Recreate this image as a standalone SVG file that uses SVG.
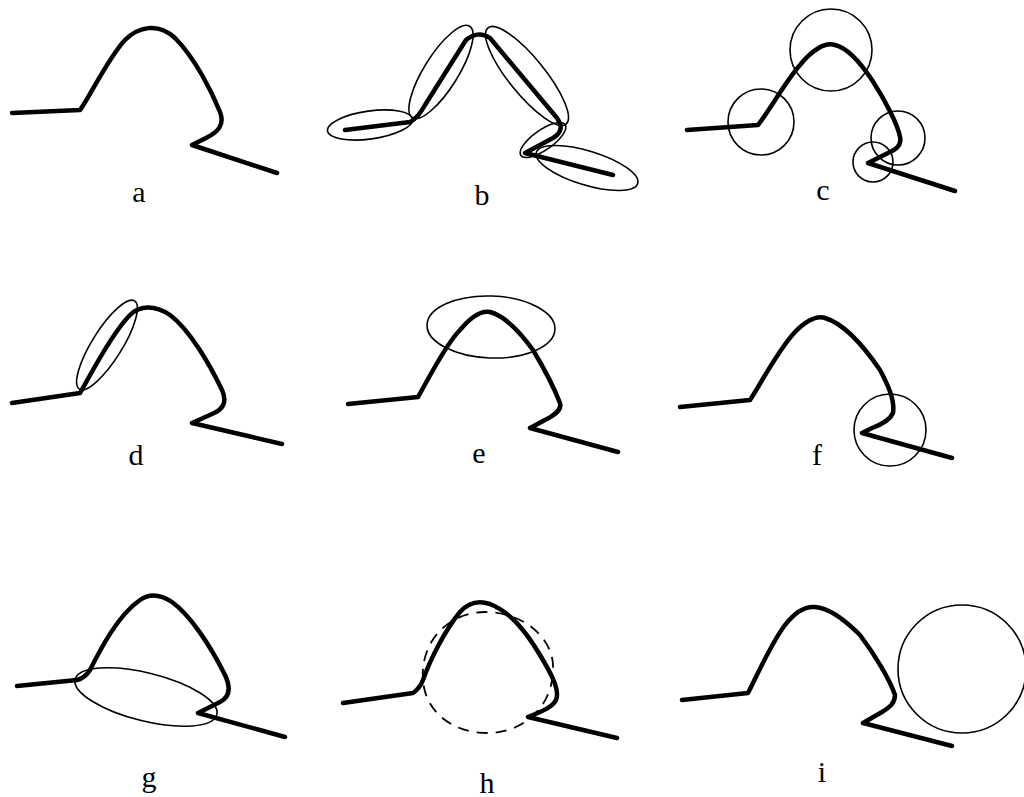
<svg xmlns="http://www.w3.org/2000/svg" width="1024" height="797" viewBox="0 0 1024 797">
<style>
.curve{fill:none;stroke:#000;stroke-width:4.5;stroke-linecap:round;stroke-linejoin:round}
.ring{fill:none;stroke:#000;stroke-width:1.6}
.dash{fill:none;stroke:#000;stroke-width:1.8;stroke-dasharray:11 8}
.lbl{font-family:"Liberation Serif",serif;font-size:30px;fill:#000;text-anchor:middle}
</style>
<rect width="1024" height="797" fill="#fff"/>
<g id="panel-a">
<path class="curve" d="M12,113 L80,110 C88,100 108,58 125,40 C138,27 158,22 175,38 C195,58 212,92 220,112 C225,125 218,132 206,138 L192,145 L277,173"/>
<text class="lbl" x="139" y="202">a</text>
</g>
<g id="panel-b">
<path class="curve" d="M345,130 L410,122 Q418,118 425,105 L466,40 Q478,30 490,38 L557,118 Q566,130 553,138 L525,153 L613,175"/>
<ellipse class="ring" cx="370" cy="125" rx="43" ry="14" transform="rotate(-8 370 125)"/>
<ellipse class="ring" cx="441" cy="72" rx="54" ry="17" transform="rotate(-58 441 72)"/>
<ellipse class="ring" cx="527" cy="76" rx="62" ry="18" transform="rotate(51 527 76)"/>
<ellipse class="ring" cx="543" cy="140" rx="27" ry="10" transform="rotate(-35 543 140)"/>
<ellipse class="ring" cx="587" cy="168" rx="53" ry="17" transform="rotate(17 587 168)"/>
<text class="lbl" x="482" y="205">b</text>
</g>
<g id="panel-c">
<path class="curve" d="M687,130 L758,125 C770,110 785,82 800,65 C812,50 825,42 835,45 C848,48 862,65 872,80 C885,100 898,125 900,137 C902,146 895,150 888,153 L868,163 L955,191"/>
<circle class="ring" cx="831" cy="50" r="41"/>
<circle class="ring" cx="761" cy="122" r="33"/>
<circle class="ring" cx="898" cy="138" r="27"/>
<circle class="ring" cx="873" cy="162" r="20"/>
<text class="lbl" x="823" y="200">c</text>
</g>
<g id="panel-d">
<path class="curve" d="M12,403 L80,393 C88,380 110,335 130,315 C140,305 155,305 170,315 C190,330 210,365 222,390 C228,403 222,410 212,414 L192,423 L282,444"/>
<ellipse class="ring" cx="107" cy="345" rx="52" ry="15" transform="rotate(-58 107 345)"/>
<text class="lbl" x="136" y="465">d</text>
</g>
<g id="panel-e">
<path class="curve" d="M348,404 L418,397 C428,380 445,345 460,330 C470,318 480,310 490,312 C505,316 520,332 533,350 C545,370 555,390 560,403 C562,410 555,415 545,420 L530,428 L618,452"/>
<ellipse class="ring" cx="491" cy="327" rx="64" ry="31" transform="rotate(2 491 327)"/>
<text class="lbl" x="479" y="463">e</text>
</g>
<g id="panel-f">
<path class="curve" d="M680,407 L750,400 C760,385 778,350 795,332 C805,322 815,315 825,318 C845,324 865,348 880,370 C888,385 895,400 893,413 C890,420 880,425 872,428 L862,433 L952,458"/>
<circle class="ring" cx="890" cy="430" r="36"/>
<text class="lbl" x="817" y="465">f</text>
</g>
<g id="panel-g">
<path class="curve" d="M17,686 L77,680 Q85,678 90,670 C100,650 118,615 140,600 C150,593 160,594 172,602 C190,615 210,645 225,675 C232,690 228,698 220,702 L198,713 L285,737"/>
<ellipse class="ring" cx="146" cy="697" rx="73" ry="24" transform="rotate(14 146 697)"/>
<text class="lbl" x="149" y="787">g</text>
</g>
<g id="panel-h">
<path class="curve" d="M343,703 L413,693 Q420,688 423,680 C430,660 445,630 460,612 C468,603 478,600 490,604 C510,612 525,630 540,655 C552,675 560,690 556,700 C552,708 540,712 528,717 L617,738"/>
<path class="dash" d="M423,680 C420,640 450,612 485,612 C525,612 555,640 553,670 C552,710 520,733 488,733 C450,733 425,710 423,680 Z"/>
<text class="lbl" x="487" y="793">h</text>
</g>
<g id="panel-i">
<path class="curve" d="M682,700 L748,693 C755,680 770,645 785,625 C795,612 805,606 815,607 C830,608 845,620 860,635 C875,655 890,680 895,695 C895,703 890,707 882,712 L863,723 L952,746"/>
<circle class="ring" cx="962" cy="669" r="64"/>
<text class="lbl" x="822" y="782">i</text>
</g>
</svg>
